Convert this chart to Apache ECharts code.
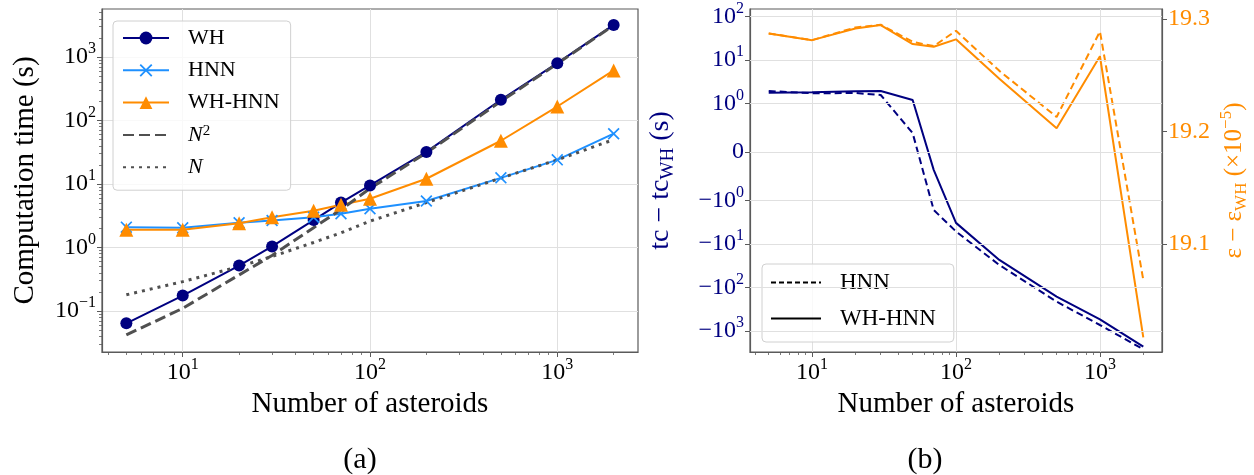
<!DOCTYPE html>
<html><head><meta charset="utf-8">
<script src="https://cdn.jsdelivr.net/npm/echarts@6/dist/echarts.min.js"></script>
<style>html,body{margin:0;padding:0;background:#fff}#c{width:1254px;height:475px}</style>
</head><body><div id="c"></div>
<script>
// ---- data ----
const asteroids = [5, 10, 20, 30, 50, 70, 100, 200, 500, 1000, 2000];
const timeWH    = [0.064, 0.175, 0.52, 1.04, 2.7, 5.1, 9.5, 32, 212, 800, 3200];
const timeHNN   = [2.09, 2.04, 2.45, 2.66, 3.0, 3.4, 4.07, 5.4, 12.5, 24, 62];
const timeWHHNN = [1.9, 1.9, 2.41, 3.0, 3.8, 4.7, 5.85, 12.1, 48, 166, 615];
const refN2     = [0.042, 0.11, 0.37, 0.75, 2.05, 3.95, 8.5, 31, 200, 785, 3150];
const refN      = [0.18, 0.29, 0.5, 0.72, 1.2, 1.7, 2.6, 5.1, 12.4, 24, 50];
const dtHNN     = [1.95, 1.73, 1.76, 1.58, 0.39, -1.67, -5.2, -30.7, -214, -735, -2660];
const dtWHHNN   = [1.79, 1.82, 1.92, 1.95, 1.21, -0.37, -3.3, -23.5, -164, -543, -2317];
const deHNN     = [19.2873, 19.2813, 19.2926, 19.295, 19.2798, 19.276, 19.2896, 19.254, 19.213, 19.289, 19.068];
const deWHHNN   = [19.2873, 19.2813, 19.2917, 19.2947, 19.2778, 19.2754, 19.282, 19.247, 19.203, 19.267, 19.017];
// ---- ticks ----
const xMajorTicks = [10, 100, 1000];
const xMinorTicks = [4,5,6,7,8,9,20,30,40,50,60,70,80,90,200,300,400,500,600,700,800,900,2000];
const yMajorTicksA = [0.1, 1, 10, 100, 1000];
const yMinorTicksA = [0.03,0.04,0.05,0.06,0.07,0.08,0.09,0.2,0.3,0.4,0.5,0.6,0.7,0.8,0.9,2,3,4,5,6,7,8,9,20,30,40,50,60,70,80,90,200,300,400,500,600,700,800,900,2000,3000,4000,5000];
const symlogTickValues = [-1000, -100, -10, -1, 0, 1, 10, 100];
const epsTicks = [19.1, 19.2, 19.3];

const F = 'Liberation Serif';
const GRAY = '#5a5a5a', GRIDC = '#e0e0e0';
const NAVY = '#000080', DBLUE = '#1E90FF', ORANGE = '#FF8C00', DGRAY = '#505050';
const LS = 1 / (1 - 1 / 10);
function symlog(v) { const a = Math.abs(v); return a <= 1 ? v * LS : Math.sign(v) * (LS + Math.log10(a)); }
function symlogInv(t) { const a = Math.abs(t); return a <= LS ? t / LS : Math.sign(t) * Math.pow(10, a - LS); }
const X_MIN = Math.pow(10, 0.569), X_MAX = Math.pow(10, 3.431);
const YA_MIN = Math.pow(10, -1.646), YA_MAX = Math.pow(10, 3.756);

function supRich(color, size) {
  return {
    b: { fontFamily: F, fontSize: size, lineHeight: size + 8, color: color },
    s: { fontFamily: F, fontSize: Math.round(size * 0.68), lineHeight: Math.round(size * 0.68), verticalAlign: 'top', color: color }
  };
}
function powLabel(v) {
  const k = Math.round(Math.log10(v));
  return '{b|10}{s|' + (k < 0 ? '\u2212' + (-k) : k) + '}';
}
function symLabel(t) {
  if (Math.abs(t) < 1e-6) return '{b|0}';
  const v = symlogInv(t);
  const k = Math.round(Math.log10(Math.abs(v)));
  return '{b|' + (v < 0 ? '\u221210' : '10') + '}{s|' + k + '}';
}
const symTicks = symlogTickValues.map(symlog);

function xMajor(g) {
  return {
    type: 'log', gridIndex: g, min: X_MIN, max: X_MAX, position: 'bottom',
    axisLine: { show: true, onZero: false, lineStyle: { color: GRAY, width: 1.2 } },
    axisTick: { show: true, customValues: xMajorTicks, length: 5, lineStyle: { color: GRAY, width: 1 } },
    axisLabel: { customValues: xMajorTicks, margin: 5, formatter: powLabel, rich: supRich('#000', 24) },
    splitLine: { show: true, lineStyle: { color: GRIDC, width: 1 } },
    name: 'Number of asteroids', nameLocation: 'middle', nameGap: 36,
    nameTextStyle: { fontFamily: F, fontSize: 29, color: '#000' }
  };
}
function xMinor(g) {
  return {
    type: 'log', gridIndex: g, min: X_MIN, max: X_MAX, position: 'bottom',
    axisLine: { show: false, onZero: false },
    axisTick: { show: true, customValues: xMinorTicks, length: 3, lineStyle: { color: GRAY, width: 0.8 } },
    axisLabel: { show: false }, splitLine: { show: false }
  };
}

const option = {
  animation: false,
  backgroundColor: '#fff',
  grid: [
    { left: 102, top: 9, width: 536, height: 343, show: true, borderColor: GRAY, borderWidth: 1.2, outerBoundsMode: 'none' },
    { left: 750, top: 9, width: 412, height: 343, show: true, borderColor: GRAY, borderWidth: 1.2, outerBoundsMode: 'none' }
  ],
  xAxis: [xMajor(0), xMinor(0), xMajor(1), xMinor(1)],
  yAxis: [
    {
      type: 'log', gridIndex: 0, min: YA_MIN, max: YA_MAX, position: 'left',
      axisLine: { show: true, lineStyle: { color: GRAY, width: 1.2 } },
      axisTick: { show: true, customValues: yMajorTicksA, length: 5, lineStyle: { color: GRAY, width: 1 } },
      axisLabel: { customValues: yMajorTicksA, margin: 6, formatter: powLabel, rich: supRich('#000', 24) },
      splitLine: { show: true, lineStyle: { color: GRIDC, width: 1 } },
      name: 'Computation time (s)', nameLocation: 'middle', nameGap: 62, nameRotate: 90,
      nameTextStyle: { fontFamily: F, fontSize: 29, color: '#000' }
    },
    {
      type: 'log', gridIndex: 0, min: YA_MIN, max: YA_MAX, position: 'left',
      axisLine: { show: false },
      axisTick: { show: true, customValues: yMinorTicksA, length: 3, lineStyle: { color: GRAY, width: 0.8 } },
      axisLabel: { show: false }, splitLine: { show: false }
    },
    {
      type: 'value', gridIndex: 1, min: -4.598, max: 3.287, position: 'left',
      axisLine: { show: true, onZero: false, lineStyle: { color: GRAY, width: 1.2 } },
      axisTick: { show: true, customValues: symTicks, length: 5, lineStyle: { color: GRAY, width: 1 } },
      axisLabel: { customValues: symTicks, margin: 6, formatter: symLabel, rich: supRich(NAVY, 24) },
      splitLine: { show: false },
      name: '{a|tc \u2212 tc}{sub|WH}{a| (s)}', nameLocation: 'middle', nameGap: 72, nameRotate: 90,
      nameTextStyle: {
        color: NAVY, fontFamily: F, fontSize: 28,
        rich: { a: { fontFamily: F, fontSize: 28, lineHeight: 34, color: NAVY },
                sub: { fontFamily: F, fontSize: 19, lineHeight: 19, verticalAlign: 'bottom', color: NAVY } }
      }
    },
    {
      type: 'value', gridIndex: 1, min: 19.004, max: 19.309, position: 'right',
      axisLine: { show: true, onZero: false, lineStyle: { color: GRAY, width: 1.2 } },
      axisTick: { show: true, customValues: epsTicks, length: 5, lineStyle: { color: GRAY, width: 1 } },
      axisLabel: { customValues: epsTicks, margin: 6, formatter: v => v.toFixed(1), color: ORANGE, fontFamily: F, fontSize: 24 },
      splitLine: { show: false },
      name: '{a|\u03B5 \u2212 \u03B5}{sub|WH}{a| (\u00D710}{sup|\u22125}{a|)}', nameLocation: 'middle', nameGap: 56, nameRotate: 90,
      nameTextStyle: {
        color: ORANGE, fontFamily: F, fontSize: 25,
        rich: { a: { fontFamily: F, fontSize: 25, lineHeight: 32, color: ORANGE },
                sub: { fontFamily: F, fontSize: 17, lineHeight: 17, verticalAlign: 'bottom', color: ORANGE },
                sup: { fontFamily: F, fontSize: 17, lineHeight: 17, verticalAlign: 'top', color: ORANGE } }
      }
    }
  ],
  legend: [
    {
      left: 113, top: 21, orient: 'vertical',
      data: ['WH', 'HNN', 'WH-HNN', { name: 'N2', itemStyle: { opacity: 0 } }, { name: 'N', itemStyle: { opacity: 0 } }],
      itemWidth: 46, itemHeight: 16, itemGap: 10.3,
      padding: [6, 11, 12, 9],
      backgroundColor: 'rgba(255,255,255,0.8)', borderColor: '#d0d0d0', borderWidth: 1, borderRadius: 4,
      formatter: function (n) { return n === 'N2' ? '{i|N}{s|2}' : (n === 'N' ? '{i|N}' : '{t|' + n + '}'); },
      textStyle: {
        fontFamily: F, fontSize: 22, color: '#000', padding: [0, 0, 0, 14],
        rich: { t: { fontFamily: F, fontSize: 22, lineHeight: 22, color: '#000' },
                i: { fontFamily: F, fontSize: 22, lineHeight: 22, fontStyle: 'italic', color: '#000' },
                s: { fontFamily: F, fontSize: 15, lineHeight: 15, verticalAlign: 'top', color: '#000' } }
      }
    },
    {
      left: 762, top: 264, orient: 'vertical',
      data: [{ name: 'legHNN', itemStyle: { opacity: 0 } }, { name: 'legWHHNN', itemStyle: { opacity: 0 } }],
      itemWidth: 50, itemHeight: 16, itemGap: 13,
      padding: [7, 18, 12, 8],
      backgroundColor: 'rgba(255,255,255,0.8)', borderColor: '#d0d0d0', borderWidth: 1, borderRadius: 4,
      formatter: function (n) { return n === 'legHNN' ? 'HNN' : 'WH-HNN'; },
      textStyle: { fontFamily: F, fontSize: 23, lineHeight: 22, color: '#000', padding: [0, 0, 0, 14] }
    }
  ],
  graphic: [
    { type: 'text', style: { text: '(a)', x: 360, y: 460, textAlign: 'center', textVerticalAlign: 'middle', fontFamily: F, fontSize: 30, fill: '#000' } },
    { type: 'text', style: { text: '(b)', x: 925, y: 460, textAlign: 'center', textVerticalAlign: 'middle', fontFamily: F, fontSize: 30, fill: '#000' } }
  ],
  series: [
    { name: 'WH', type: 'line', xAxisIndex: 0, yAxisIndex: 0, data: asteroids.map((n, i) => [n, timeWH[i]]),
      symbol: 'circle', symbolSize: 12, lineStyle: { color: NAVY, width: 2 }, itemStyle: { color: NAVY } },
    { name: 'HNN', type: 'line', xAxisIndex: 0, yAxisIndex: 0, data: asteroids.map((n, i) => [n, timeHNN[i]]),
      symbol: 'path://M0,1L1,0L5,4L9,0L10,1L6,5L10,9L9,10L5,6L1,10L0,9L4,5Z', symbolSize: 12,
      lineStyle: { color: DBLUE, width: 2 }, itemStyle: { color: DBLUE } },
    { name: 'WH-HNN', type: 'line', xAxisIndex: 0, yAxisIndex: 0, data: asteroids.map((n, i) => [n, timeWHHNN[i]]),
      symbol: 'triangle', symbolSize: 14, lineStyle: { color: ORANGE, width: 2 }, itemStyle: { color: ORANGE } },
    { name: 'N2', type: 'line', xAxisIndex: 0, yAxisIndex: 0, data: asteroids.map((n, i) => [n, refN2[i]]),
      symbol: 'none', lineStyle: { color: DGRAY, width: 3, type: [11, 5] }, itemStyle: { color: DGRAY } },
    { name: 'N', type: 'line', xAxisIndex: 0, yAxisIndex: 0, data: asteroids.map((n, i) => [n, refN[i]]),
      symbol: 'none', lineStyle: { color: DGRAY, width: 3, type: [3, 5] }, itemStyle: { color: DGRAY } },

    { name: 'symGrid', type: 'line', xAxisIndex: 2, yAxisIndex: 2, data: [], symbol: 'none', z: 0, silent: true,
      markLine: { silent: true, symbol: 'none', animation: false, label: { show: false },
        lineStyle: { color: GRIDC, width: 1, type: 'solid' },
        data: symTicks.map(v => ({ yAxis: v })) } },

    { name: 'dtHNN', type: 'line', xAxisIndex: 2, yAxisIndex: 2, data: asteroids.map((n, i) => [n, symlog(dtHNN[i])]),
      symbol: 'none', lineStyle: { color: NAVY, width: 2, type: [7, 4] } },
    { name: 'dtWHHNN', type: 'line', xAxisIndex: 2, yAxisIndex: 2, data: asteroids.map((n, i) => [n, symlog(dtWHHNN[i])]),
      symbol: 'none', lineStyle: { color: NAVY, width: 2 } },
    { name: 'deHNN', type: 'line', xAxisIndex: 2, yAxisIndex: 3, data: asteroids.map((n, i) => [n, deHNN[i]]),
      symbol: 'none', lineStyle: { color: ORANGE, width: 2, type: [7, 4] } },
    { name: 'deWHHNN', type: 'line', xAxisIndex: 2, yAxisIndex: 3, data: asteroids.map((n, i) => [n, deWHHNN[i]]),
      symbol: 'none', lineStyle: { color: ORANGE, width: 2 } },

    { name: 'legHNN', type: 'line', xAxisIndex: 2, yAxisIndex: 2, data: [], symbol: 'none',
      lineStyle: { color: '#000', width: 1.5, type: [5, 3] }, itemStyle: { color: '#000' } },
    { name: 'legWHHNN', type: 'line', xAxisIndex: 2, yAxisIndex: 2, data: [], symbol: 'none',
      lineStyle: { color: '#000', width: 1.5 }, itemStyle: { color: '#000' } }
  ]
};
const chart = echarts.init(document.getElementById('c'), null, { renderer: 'canvas' });
chart.setOption(option);
</script>
</body></html>
